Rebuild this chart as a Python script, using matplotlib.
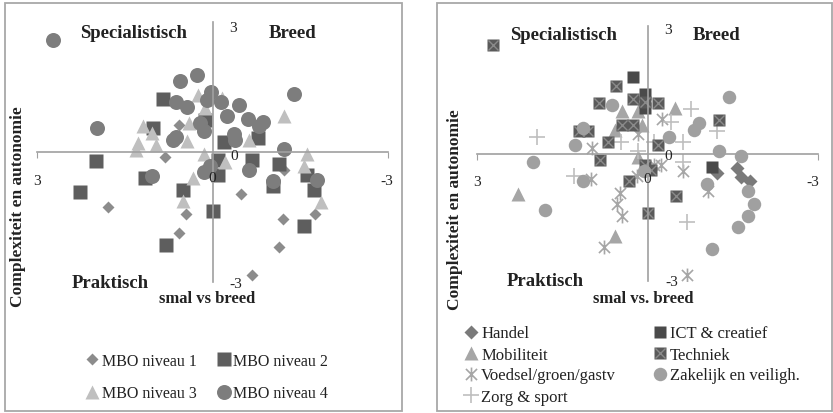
import matplotlib
matplotlib.use('Agg')
import matplotlib.pyplot as plt
from matplotlib.patches import Rectangle
from matplotlib.path import Path

# ---- data: left panel (MBO niveau) ----
mbo1_x = [0.58, 0.82, -0.48, -1.23, 1.79, 0.46, 0.58, -1.20, -1.76, -1.13, -0.68]
mbo1_y = [0.62, -0.12, -0.97, -0.42, -1.27, -1.43, -1.87, -1.55, -1.43, -2.19, -2.84]

mbo2_x = [0.84, 1.01, 0.12, -0.19, -0.77, 2.00, 1.16, 2.26, 0.50, -0.09, -0.09, -0.68,
          -1.13, -1.62, -1.73, -1.03, 0.00, 0.79, -1.57]
mbo2_y = [1.22, 0.55, 0.74, 0.23, 0.32, -0.21, -0.60, -0.92, -0.88, -0.18, -0.53, -0.18,
          -0.28, -0.53, -0.88, -0.79, -1.36, -2.15, -1.71]

mbo3_x = [0.24, -0.17, 0.12, 0.41, 1.18, 1.03, 1.28, 1.30, 0.97, 0.43, -0.62, -1.23,
          0.14, -0.22, 0.34, -1.62, -1.56, 0.51, -1.86]
mbo3_y = [1.32, 1.25, 1.02, 0.67, 0.60, 0.44, 0.21, 0.05, 0.16, 0.25, 0.28, 0.83,
          -0.05, -0.23, -0.60, -0.05, -0.32, -1.13, -1.15]

mbo4_x = [2.72, 0.55, 0.27, 0.03, 0.09, 0.62, 0.43, -0.14, -0.46, -0.24, -0.60, -0.87,
          -0.79, -1.40, 1.97, 0.22, 0.15, 0.68, 0.63, -0.36, -0.39, -1.23, 1.03, 0.15,
          0.05, -0.63, -1.04, -1.79]
mbo4_y = [2.59, 1.64, 1.78, 1.39, 1.20, 1.15, 1.04, 1.15, 1.09, 0.83, 0.76, 0.69,
          0.60, 1.34, 0.55, 0.67, 0.48, 0.28, 0.35, 0.42, 0.28, 0.07, -0.55, -0.46,
          -0.32, -0.42, -0.67, -0.65]

# ---- data: right panel (sector) ----
handel_x = [-1.57, -1.64, -1.80, -1.23]
handel_y = [-0.33, -0.56, -0.64, -0.45]

mobi_x = [0.44, 0.16, -0.48, 0.58, 0.09, 0.16, 2.27, 0.58]
mobi_y = [1.01, 0.99, 1.08, 0.56, 0.66, -0.09, -0.96, -1.93]

voed_x = [-0.25, 0.16, 0.97, -0.12, -0.23, -0.63, 1.00, 0.18, 0.49, 0.53, 0.44, 0.77, -1.06, -0.70]
voed_y = [0.82, 0.45, 0.12, -0.26, -0.28, -0.42, -0.61, -0.54, -0.92, -1.18, -1.46, -2.19, -0.89, -2.87]

zorg_x = [1.94, -0.76, -0.42, -1.23, -0.62, 0.46, -0.11, 0.16, -0.63, 1.30, -0.69]
zorg_y = [0.40, 1.04, 0.73, 0.54, 0.28, 0.26, 0.26, 0.05, -0.21, -0.54, -1.60]

ict_x = [0.26, 0.04, 0.04, -1.14]
ict_y = [1.79, 1.40, 1.08, -0.31]

tech_x = [2.71, 0.56, 0.86, 0.25, 0.04, -0.18, 0.44, 0.25, 1.20, 1.04, 0.69, -1.25,
          -0.19, 0.83, 0.33, 0.05, -0.07, -0.51, 0.00]
tech_y = [2.56, 1.60, 1.20, 1.29, 1.22, 1.20, 0.66, 0.66, 0.52, 0.52, 0.26, 0.80,
          0.21, -0.16, -0.64, -0.26, -0.38, -0.99, -1.39]

zak_x = [0.62, 1.14, 1.27, 2.01, 1.14, 0.07, -0.37, -0.81, -0.90, -1.43, -1.25, -1.65,
         -1.04, -1.76, -1.88, -1.76, -1.60, -1.14, 1.80]
zak_y = [1.13, 0.61, 0.21, -0.21, -0.64, -0.42, 0.38, 0.56, 0.71, 1.32, 0.05, -0.07,
         -0.71, -0.89, -1.19, -1.46, -1.74, -2.24, -1.32]

W, H = 833, 414
def fx(x):
    return x / W
def fy(y):
    return 1 - y / H

plt.rcParams['font.family'] = ['Liberation Serif', 'DejaVu Serif']
txt = '#222222'
axis_c = '#a0a0a0'

fig = plt.figure(figsize=(W / 100, H / 100), dpi=100)

# panel borders
for x0, x1 in [(5, 402), (437, 832)]:
    fig.add_artist(Rectangle((fx(x0), fy(412)), fx(x1 - x0), (412 - 4) / H,
                             transform=fig.transFigure, fill=False,
                             edgecolor='#a8a8a8', lw=1.3))

def setup(ax):
    ax.set_xlim(3, -3)
    ax.set_ylim(-3, 3)
    for s in ['top', 'right']:
        ax.spines[s].set_visible(False)
    for s in ['left', 'bottom']:
        ax.spines[s].set_position('zero')
        ax.spines[s].set_color(axis_c)
        ax.spines[s].set_linewidth(1.2)
    ax.set_xticks([-3, 3])
    ax.set_yticks([])
    ax.tick_params(axis='x', direction='out', length=4, color=axis_c, labelbottom=False)
    ax.patch.set_visible(False)

ax1 = fig.add_axes([fx(37), fy(283), 351 / W, 260 / H])
setup(ax1)
h1, = ax1.plot(mbo1_x, mbo1_y, ls='none', marker='D', ms=6.3, color='#8c8c8c', mec='none')
h2, = ax1.plot(mbo2_x, mbo2_y, ls='none', marker='s', ms=9.5, color='#5e5e5e', mec='none')
h3, = ax1.plot(mbo3_x, mbo3_y, ls='none', marker='^', ms=10.5, color='#bfbfbf', mec='none')
h4, = ax1.plot(mbo4_x, mbo4_y, ls='none', marker='o', ms=10.8, color='#7d7d7d', mec='none')

ax2 = fig.add_axes([fx(477), fy(282), 341 / W, 255 / H])
setup(ax2)
star = Path([(-1, -1), (1, 1), (-1, 1), (1, -1), (0, -1.25), (0, 1.25)],
            [Path.MOVETO, Path.LINETO] * 3)
g1, = ax2.plot(handel_x, handel_y, ls='none', marker='D', ms=7, color='#7a7a7a', mec='none')
g2, = ax2.plot(mobi_x, mobi_y, ls='none', marker='^', ms=9.5, color='#a6a6a6', mec='none')
g3, = ax2.plot(voed_x, voed_y, ls='none', marker=star, ms=10, mfc='none', mec='#a6a6a6', mew=1.2)
g4, = ax2.plot(zorg_x, zorg_y, ls='none', marker='+', ms=11, color='#bfbfbf', mew=1.2)
g5, = ax2.plot(ict_x, ict_y, ls='none', marker='s', ms=9, color='#4a4a4a', mec='none')
g6a, = ax2.plot(tech_x, tech_y, ls='none', marker='s', ms=9, color='#5a5a5a', mec='none')
g6b, = ax2.plot(tech_x, tech_y, ls='none', marker='x', ms=7, color='#8a8a8a', mew=1)
g7, = ax2.plot(zak_x, zak_y, ls='none', marker='o', ms=9.7, color='#a0a0a0', mec='none')

# tick labels (Excel style, axes crossing at origin)
tick_pos = [
    ('3', 233, 28), ('0', 234, 156), ('-3', 236, 284),
    ('3', 37, 182), ('0', 212, 179), ('-3', 387, 182),
    ('3', 668, 30), ('0', 668, 156), ('-3', 672, 283),
    ('3', 477, 183), ('0', 647, 180), ('-3', 813, 183),
]
for s, x, y in tick_pos:
    fig.text(fx(x), fy(y), s, ha='center', va='center', fontsize=11, color=txt)

# quadrant labels and axis titles
labels = [
    ('Specialistisch', 134, 33, 13.5), ('Breed', 293, 33, 13.5),
    ('Praktisch', 110, 283, 13.5), ('smal vs breed', 207, 299, 12),
    ('Specialistisch', 564, 35, 13.5), ('Breed', 717, 35, 13.5),
    ('Praktisch', 545, 281, 13.5), ('smal vs. breed', 643, 299, 12),
]
for s, x, y, fs in labels:
    fig.text(fx(x), fy(y), s, ha='center', va='center', fontsize=fs,
             fontweight='bold', color=txt)

for x, y in [(18, 207), (455, 210)]:
    fig.text(fx(x), fy(y), 'Complexiteit en autonomie', ha='center', va='center',
             rotation=90, fontsize=12.5, fontweight='bold', color=txt)

# legends
fig.legend([h1, h3, h2, h4], ['MBO niveau 1', 'MBO niveau 3', 'MBO niveau 2', 'MBO niveau 4'],
           loc='center', bbox_to_anchor=(fx(207), fy(378)), ncol=2, frameon=False,
           fontsize=11.5, handlelength=0.8, handletextpad=0.2, labelspacing=1.05,
           columnspacing=1.3, labelcolor=txt)

fig.legend([g1, g2, g3, g4, g5, (g6a, g6b), g7],
           ['Handel', 'Mobiliteit', 'Voedsel/groen/gastv', 'Zorg & sport',
            'ICT & creatief', 'Techniek', 'Zakelijk en veiligh.'],
           loc='center', bbox_to_anchor=(fx(632), fy(366)), ncol=2, frameon=False,
           fontsize=12, handlelength=0.8, handletextpad=0.2, labelspacing=0.3,
           columnspacing=2.2, labelcolor=txt)

fig.savefig('out.png', dpi=100)
